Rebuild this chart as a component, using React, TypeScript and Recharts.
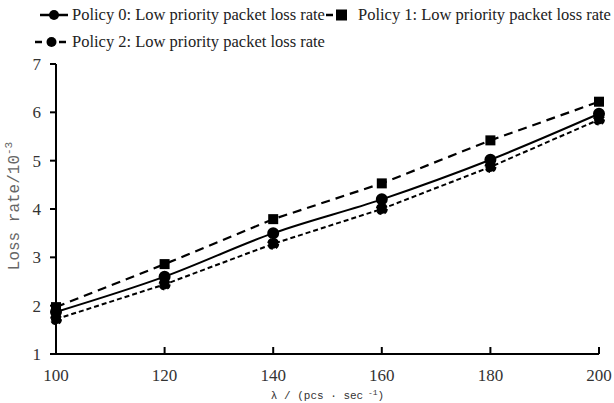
import React from "react";
import { LineChart, Line, XAxis, YAxis, Label } from "recharts";

const lambdas = [100, 120, 140, 160, 180, 200];
const policy0 = [1.87, 2.6, 3.5, 4.2, 5.02, 5.97];
const policy1 = [1.97, 2.86, 3.79, 4.53, 5.42, 6.22];
const policy2 = [1.72, 2.44, 3.28, 4.0, 4.87, 5.85];
const yTicks = [1, 2, 3, 4, 5, 6, 7];
const seriesNames = [
  "Policy 0: Low priority packet loss rate",
  "Policy 1: Low priority packet loss rate",
  "Policy 2: Low priority packet loss rate",
];

const data = lambdas.map((x, i) => ({ x, p0: policy0[i], p1: policy1[i], p2: policy2[i] }));

const SERIF = "'Liberation Serif', 'Times New Roman', serif";
const MONO = "'Liberation Mono', 'DejaVu Sans Mono', monospace";

function SquareDot(props: any) {
  const { cx, cy, index } = props;
  if (cx == null || cy == null) return null;
  return <rect key={`sq-${index}`} x={cx - 5} y={cy - 5} width={10} height={10} fill="#000" />;
}

// legend pieces placed by hand, like the original's two-row legend
function LegendItem({ kind, left, iconW, textLeft, cy }: { kind: number; left: number; iconW: number; textLeft: number; cy: number }) {
  return (
    <>
      <svg width={iconW} height={14} style={{ position: "absolute", left, top: cy - 7 }}>
        {kind === 0 && <line x1={0} y1={7} x2={iconW} y2={7} stroke="#000" strokeWidth={2.5} />}
        {kind === 0 && <circle cx={iconW / 2} cy={7} r={5} fill="#000" />}
        {kind === 1 && <line x1={1} y1={7} x2={8} y2={7} stroke="#000" strokeWidth={2.5} />}
        {kind === 1 && <rect x={iconW - 12} y={1.5} width={11} height={11} fill="#000" />}
        {kind === 2 && <line x1={0} y1={7} x2={iconW} y2={7} stroke="#000" strokeWidth={2.5} strokeDasharray="7 5" strokeDashoffset={0} />}
        {kind === 2 && <circle cx={iconW / 2} cy={7} r={5} fill="#000" />}
      </svg>
      <div style={{ position: "absolute", left: textLeft, top: cy - 10, lineHeight: "20px", whiteSpace: "nowrap" }}>{seriesNames[kind]}</div>
    </>
  );
}

function YTitle(props: any) {
  const vb = props.viewBox || {};
  const x = 19;
  const y = vb.y + vb.height / 2 - 3;
  return (
    <text x={x} y={y} transform={`rotate(-90 ${x} ${y})`} textAnchor="middle" fill="#666" fontFamily={MONO} fontSize={16}>
      Loss rate/10
      <tspan fontSize={11} dy={-7}>-3</tspan>
    </text>
  );
}

function XTitle(props: any) {
  const vb = props.viewBox || {};
  const x = vb.x + vb.width / 2;
  return (
    <text x={x} y={399} textAnchor="middle" fill="#333" fontFamily={MONO} fontSize={11}>
      λ / (pcs · sec
      <tspan fontSize={8} dy={-4}> -1</tspan>
      <tspan dy={4}>)</tspan>
    </text>
  );
}

export default function App() {
  return (
    <div style={{ position: "absolute", left: 0, top: 0, width: 614, height: 403, background: "#fff" }}>
      <div style={{ position: "absolute", left: 0, top: 0, fontFamily: SERIF, fontSize: 16.5, color: "#222" }}>
        <LegendItem kind={0} left={40} iconW={28} textLeft={72} cy={15} />
        <LegendItem kind={1} left={325} iconW={23} textLeft={358} cy={15} />
        <LegendItem kind={2} left={35} iconW={33} textLeft={72} cy={42} />
      </div>
      <LineChart width={614} height={403} data={data} margin={{ top: 64, right: 15, bottom: 19, left: 0 }}>
        <XAxis
          dataKey="x"
          type="number"
          domain={[100, 200]}
          ticks={lambdas}
          axisLine={{ stroke: "#000", strokeWidth: 2 }}
          tickLine={{ stroke: "#000", strokeWidth: 2 }}
          tickSize={-7}
          tickMargin={22}
          tick={{ fill: "#333", fontFamily: SERIF, fontSize: 17 }}
        >
          <Label content={<XTitle />} />
        </XAxis>
        <YAxis
          type="number"
          domain={[1, 7]}
          ticks={yTicks}
          width={56}
          axisLine={{ stroke: "#000", strokeWidth: 2 }}
          tickLine={{ stroke: "#000", strokeWidth: 2 }}
          tickSize={6}
          tickMargin={9}
          tick={{ fill: "#333", fontFamily: SERIF, fontSize: 17 }}
        >
          <Label content={<YTitle />} />
        </YAxis>
        <Line dataKey="p0" name={seriesNames[0]} type="monotone" stroke="#000" strokeWidth={2} dot={{ r: 5, fill: "#000", stroke: "#000" }} isAnimationActive={false} />
        <Line dataKey="p1" name={seriesNames[1]} type="linear" stroke="#000" strokeWidth={2.2} strokeDasharray="9 6" dot={<SquareDot />} isAnimationActive={false} />
        <Line dataKey="p2" name={seriesNames[2]} type="linear" stroke="#000" strokeWidth={2} strokeDasharray="5 3" dot={{ r: 5, fill: "#000", stroke: "#000" }} isAnimationActive={false} />
      </LineChart>
    </div>
  );
}
